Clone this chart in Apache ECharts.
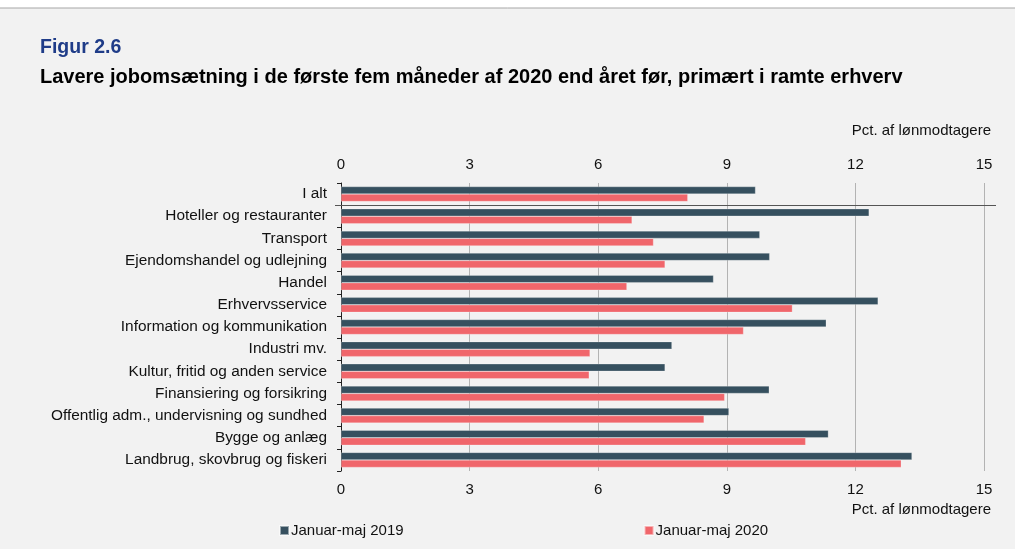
<!DOCTYPE html>
<html>
<head>
<meta charset="utf-8">
<script src="https://cdn.jsdelivr.net/npm/echarts@6/dist/echarts.min.js"></script>
<style>
  html, body { margin: 0; padding: 0; background: #fff; }
  #chart { width: 1015px; height: 549px; }
</style>
</head>
<body>
<div id="chart"></div>
<script>
// kategorier (øverst -> nederst)
const categories = [
  "I alt",
  "Hoteller og restauranter",
  "Transport",
  "Ejendomshandel og udlejning",
  "Handel",
  "Erhvervsservice",
  "Information og kommunikation",
  "Industri mv.",
  "Kultur, fritid og anden service",
  "Finansiering og forsikring",
  "Offentlig adm., undervisning og sundhed",
  "Bygge og anlæg",
  "Landbrug, skovbrug og fiskeri"
];
// Januar-maj 2019
const values2019 = [9.67, 12.32, 9.77, 10.0, 8.69, 12.53, 11.32, 7.72, 7.56, 9.99, 9.05, 11.37, 13.32];
// Januar-maj 2020
const values2020 = [8.09, 6.79, 7.29, 7.56, 6.67, 10.53, 9.39, 5.81, 5.79, 8.95, 8.47, 10.84, 13.07];
const seriesNames = ["Januar-maj 2019", "Januar-maj 2020"];
const axisMin = 0, axisMax = 15, axisStep = 3;

const chart = echarts.init(document.getElementById("chart"));
const font = "Liberation Sans, Arial, sans-serif";

const xAxisBase = {
  type: "value",
  min: axisMin,
  max: axisMax,
  interval: axisStep,
  axisLine: { show: false },
  axisTick: { show: false },
  axisLabel: { color: "#111", fontSize: 15, fontFamily: font, margin: 11 },
};

const option = {
  backgroundColor: "#f2f2f2",
  textStyle: { fontFamily: font },
  graphic: [
    { type: "rect", left: 0, top: 0, shape: { width: 1015, height: 8 }, style: { fill: "#ffffff" } },
    { type: "line", shape: { x1: 0, y1: 8, x2: 1015, y2: 8 }, style: { stroke: "#a6a6a6", lineWidth: 1 } },
    { type: "text", left: 40, top: 38, style: { text: "Figur 2.6", fill: "#1f3c88", font: "bold 19.5px " + font } },
    { type: "text", left: 40, top: 67, style: { text: "Lavere jobomsætning i de første fem måneder af 2020 end året før, primært i ramte erhverv", fill: "#000", font: "bold 20px " + font } },
    { type: "text", right: 24, top: 123, style: { text: "Pct. af lønmodtagere", fill: "#111", font: "15px " + font } },
    { type: "text", right: 24, top: 502, style: { text: "Pct. af lønmodtagere", fill: "#111", font: "15px " + font } },
    { type: "line", shape: { x1: 335, y1: 205.5, x2: 996, y2: 205.5 }, style: { stroke: "#555", lineWidth: 1.2 }, z: 10 }
  ],
  legend: {
    bottom: 6,
    left: 274,
    itemGap: 240,
    itemWidth: 9,
    itemHeight: 9,
    icon: "rect",
    textStyle: { color: "#111", fontSize: 15, fontFamily: font, padding: [0, 0, 0, -3] },
    data: seriesNames
  },
  grid: { left: 341, right: 31, top: 183, bottom: 78, containLabel: false },
  xAxis: [
    Object.assign({}, xAxisBase, {
      position: "top",
      splitLine: { show: true, lineStyle: { color: "#b3b3b3", width: 1 } }
    }),
    Object.assign({}, xAxisBase, {
      position: "bottom",
      splitLine: { show: false }
    })
  ],
  yAxis: {
    type: "category",
    data: categories,
    inverse: true,
    axisLine: { show: true, lineStyle: { color: "#222", width: 1 } },
    axisTick: { show: true, length: 4, lineStyle: { color: "#222" } },
    axisLabel: { color: "#111", fontSize: 15.4, fontFamily: font, margin: 14 }
  },
  series: [
    {
      name: seriesNames[0],
      type: "bar",
      xAxisIndex: 0,
      data: values2019,
      barWidth: 7.5,
      barGap: "0%",
      itemStyle: { color: "#36505f", borderColor: "rgba(255,255,255,0.5)", borderWidth: 0.5 }
    },
    {
      name: seriesNames[1],
      type: "bar",
      xAxisIndex: 0,
      data: values2020,
      barWidth: 7.5,
      barGap: "0%",
      itemStyle: { color: "#f0666b", borderColor: "rgba(255,255,255,0.5)", borderWidth: 0.5 }
    }
  ]
};

chart.setOption(option);
</script>
</body>
</html>
